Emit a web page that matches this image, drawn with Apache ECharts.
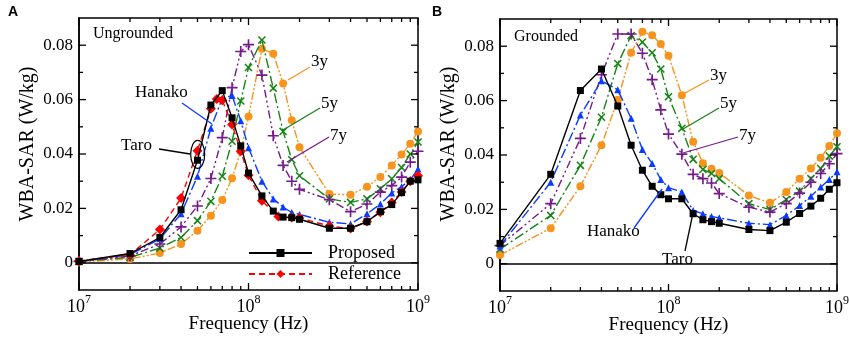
<!DOCTYPE html>
<html><head><meta charset="utf-8">
<script src="https://cdn.jsdelivr.net/npm/echarts@6/dist/echarts.min.js"></script>
<style>html,body{margin:0;padding:0;background:#fff}#c{width:850px;height:338px}</style>
</head><body><div id="c"></div>
<script>
// ---------- DATA ----------
const freqMHz    = [10,20,30,40,50,60,70,80,90,100,120,140,160,180,200,300,400,500,600,700,800,900,1000];
const refFreqMHz = [10,20,30,40,50,60,65,70,80,90,100,120,150,180,200,300,400,500,600,700,800,900,1000];

// Panel A: Ungrounded
const aProposed  = [0.0005,0.0034,0.0093,0.0195,0.0377,0.0580,0.0633,0.0533,0.0430,0.0330,0.0246,0.0190,0.0168,0.0166,0.0160,0.0127,0.0127,0.0151,0.0188,0.0214,0.0258,0.0300,0.0305];
const aReference = [0.0007,0.0030,0.0122,0.0238,0.0412,0.0566,0.0602,0.0598,0.0508,0.0410,0.0322,0.0228,0.0170,0.0167,0.0165,0.0135,0.0126,0.0152,0.0186,0.0222,0.0260,0.0300,0.0320];
const aHanako    = [0.0005,0.0030,0.0088,0.0180,0.0318,0.0495,0.0605,0.0615,0.0522,0.0423,0.0300,0.0235,0.0205,0.0185,0.0178,0.0149,0.0143,0.0180,0.0216,0.0257,0.0280,0.0305,0.0345];
const a7y        = [0.0005,0.0025,0.0069,0.0132,0.0209,0.0310,0.0460,0.0644,0.0777,0.0802,0.0690,0.0467,0.0358,0.0300,0.0270,0.0232,0.0188,0.0216,0.0260,0.0284,0.0315,0.0370,0.0410];
const a5y        = [0.0005,0.0020,0.0054,0.0093,0.0155,0.0226,0.0318,0.0447,0.0595,0.0718,0.0819,0.0642,0.0483,0.0379,0.0320,0.0235,0.0222,0.0235,0.0272,0.0309,0.0350,0.0400,0.0444];
const a3y        = [0.0003,0.0014,0.0036,0.0069,0.0118,0.0173,0.0231,0.0311,0.0410,0.0538,0.0787,0.0769,0.0659,0.0524,0.0425,0.0253,0.0250,0.0280,0.0315,0.0358,0.0398,0.0438,0.0483];

// Panel B: Grounded
const bTaro      = [0.0075,0.0329,0.0637,0.0716,0.0580,0.0436,0.0344,0.0285,0.0254,0.0239,0.0239,0.0184,0.0162,0.0155,0.0149,0.0126,0.0122,0.0153,0.0185,0.0212,0.0241,0.0274,0.0298];
const bHanako    = [0.0065,0.0300,0.0547,0.0673,0.0640,0.0535,0.0420,0.0369,0.0310,0.0280,0.0264,0.0196,0.0184,0.0174,0.0169,0.0149,0.0144,0.0178,0.0214,0.0248,0.0282,0.0310,0.0338];
const b7y        = [0.0067,0.0221,0.0461,0.0695,0.0845,0.0845,0.0774,0.0677,0.0566,0.0477,0.0403,0.0329,0.0313,0.0297,0.0258,0.0208,0.0190,0.0221,0.0260,0.0300,0.0332,0.0368,0.0405];
const b5y        = [0.0054,0.0178,0.0362,0.0539,0.0736,0.0839,0.0815,0.0776,0.0716,0.0614,0.0498,0.0384,0.0347,0.0332,0.0313,0.0221,0.0199,0.0236,0.0267,0.0313,0.0350,0.0396,0.0430];
const b3y        = [0.0032,0.0131,0.0285,0.0436,0.0603,0.0776,0.0853,0.0840,0.0808,0.0765,0.0620,0.0449,0.0370,0.0349,0.0334,0.0251,0.0224,0.0264,0.0313,0.0350,0.0390,0.0433,0.0480];

// Axis ticks
const xMajorTicks = [1e7,1e8,1e9];
const xMinorTicks = [2e7,3e7,4e7,5e7,6e7,7e7,8e7,9e7,2e8,3e8,4e8,5e8,6e8,7e8,8e8,9e8];
const yMajorTicks = [0,0.02,0.04,0.06,0.08];
const yMinorTicks = [0.01,0.03,0.05,0.07];
const legendNames = ['Proposed','Reference'];

// ---------- STYLE ----------
const SERIF = 'Liberation Serif';
const PLUS = 'path://M-1.5,-10L1.5,-10L1.5,-1.5L10,-1.5L10,1.5L1.5,1.5L1.5,10L-1.5,10L-1.5,1.5L-10,1.5L-10,-1.5L-1.5,-1.5Z';
const ST = {
  proposed:  {color:'#000000', dash:'solid',            symbol:'rect',     size:7},
  reference: {color:'#FF0000', dash:[6,4],              symbol:'diamond',  size:10},
  hanako:    {color:'#0A3CFF', dash:[10,3,2,3],         symbol:'triangle', size:7},
  y7:        {color:'#761A8C', dash:[8,3,2,3,2,3],      symbol:PLUS,       size:11, rot:0},
  y5:        {color:'#168416', dash:[10,3,2,3],         symbol:PLUS,       size:10, rot:45},
  y3:        {color:'#F7941D', dash:[8,2,2,2,2,2],      symbol:'circle',   size:8}
};

function pairs(freqs, vals){ return freqs.map((f,i)=>[f*1e6, vals[i]]); }
function line(name, key, freqs, vals, gi, z){
  const s = ST[key];
  return {
    name, type:'line', xAxisIndex:gi, yAxisIndex:gi, data:pairs(freqs, vals),
    symbol:s.symbol, symbolSize:s.size, symbolRotate:s.rot||0, showSymbol:true,
    lineStyle:{color:s.color, width:1.4, type:s.dash},
    itemStyle:{color:s.color, borderWidth:0},
    emphasis:{disabled:true}, z:z, animation:false
  };
}
function tickSeries(gi){
  const data = [];
  xMajorTicks.forEach(f=>data.push([f,0,0]));
  xMinorTicks.forEach(f=>data.push([f,0,1]));
  yMajorTicks.forEach(v=>data.push([1e8,v,2]));
  yMinorTicks.forEach(v=>data.push([1e8,v,3]));
  return {
    type:'custom', xAxisIndex:gi, yAxisIndex:gi, silent:true, clip:false, z:20, data,
    encode:{x:0,y:1},
    renderItem(params, api){
      const cs = params.coordSys, kind = api.value(2);
      const p = api.coord([api.value(0), api.value(1)]);
      const L = (kind===0||kind===2) ? 7 : 4;
      let ls;
      if(kind<2){ const yb=cs.y+cs.height, yt=cs.y; ls=[[p[0],yb,p[0],yb-L],[p[0],yt,p[0],yt+L]]; }
      else { const xl=cs.x, xr=cs.x+cs.width; ls=[[xl,p[1],xl+L,p[1]],[xr,p[1],xr-L,p[1]]]; }
      return {type:'group', children: ls.map(l=>({type:'line', shape:{x1:l[0],y1:l[1],x2:l[2],y2:l[3]}, style:{stroke:'#000', lineWidth:1.3}}))};
    }
  };
}
function xAxis(gi){
  return {
    type:'log', logBase:10, gridIndex:gi, min:1e7, max:1e9, interval:1,
    name:'Frequency (Hz)', nameLocation:'middle', nameGap:25, nameMoveOverlap:false,
    nameTextStyle:{fontFamily:SERIF, fontSize:19, color:'#000'},
    axisLine:{show:true, lineStyle:{color:'#000', width:1.5}},
    axisTick:{show:false}, splitLine:{show:false}, minorTick:{show:false},
    axisLabel:{
      margin:4,
      formatter: v => '{b|10}{s|' + Math.round(Math.log10(v)) + '}',
      rich:{
        b:{fontFamily:SERIF, fontSize:18, color:'#000', lineHeight:22, verticalAlign:'bottom'},
        s:{fontFamily:SERIF, fontSize:12, color:'#000', lineHeight:12, verticalAlign:'top'}
      }
    }
  };
}
function yAxis(gi){
  return {
    type:'value', gridIndex:gi, min:-0.01, max:0.09, interval:0.01,
    axisLine:{show:true, lineStyle:{color:'#000', width:1.5}},
    axisTick:{show:false}, splitLine:{show:false},
    axisLabel:{
      margin:6, fontFamily:SERIF, fontSize:17, color:'#000',
      formatter: v => { const k = Math.round(v*100); if(k<0 || k%2) return ''; return k===0 ? '0' : (k/100).toFixed(2); }
    }
  };
}

function txt(text, x, y, size, extra){
  return Object.assign({type:'text', x, y, z:50, silent:true,
    style:{text, fill:'#000', font: size+'px "'+SERIF+'"', verticalAlign:'middle', align:'left'}}, extra||{});
}
function seg(x1,y1,x2,y2,color){
  return {type:'line', z:50, silent:true, shape:{x1,y1,x2,y2}, style:{stroke:color, lineWidth:1.3}};
}

const option = {
  animation:false,
  backgroundColor:'#fff',
  grid:[
    {left:79, top:18, width:339, height:272, outerBoundsMode:'none', containLabel:false, show:true, borderColor:'#000', borderWidth:1.5, backgroundColor:'transparent'},
    {left:500, top:19, width:337, height:272, outerBoundsMode:'none', containLabel:false, show:true, borderColor:'#000', borderWidth:1.5, backgroundColor:'transparent'}
  ],
  xAxis:[xAxis(0), xAxis(1)],
  yAxis:[yAxis(0), yAxis(1)],
  legend:{
    data:legendNames, orient:'vertical', left:243, top:239, itemWidth:63, itemHeight:10, itemGap:3,
    selectedMode:false, textStyle:{fontFamily:SERIF, fontSize:18, color:'#000', padding:[0,0,0,11]}
  },
  series:[
    line('3y (ungrounded)','y3',freqMHz,a3y,0,2),
    line('5y (ungrounded)','y5',freqMHz,a5y,0,3),
    line('7y (ungrounded)','y7',freqMHz,a7y,0,4),
    line('Hanako (ungrounded)','hanako',freqMHz,aHanako,0,5),
    line('Reference','reference',refFreqMHz,aReference,0,6),
    line('Proposed','proposed',freqMHz,aProposed,0,7),
    line('3y (grounded)','y3',freqMHz,b3y,1,2),
    line('5y (grounded)','y5',freqMHz,b5y,1,3),
    line('7y (grounded)','y7',freqMHz,b7y,1,4),
    line('Hanako (grounded)','hanako',freqMHz,bHanako,1,5),
    line('Taro (grounded)','proposed',freqMHz,bTaro,1,7),
    tickSeries(0), tickSeries(1)
  ],
  graphic:[
    {type:'text', x:8, y:12, z:50, style:{text:'A', fill:'#000', font:'bold 14px "Liberation Sans"', verticalAlign:'middle'}},
    {type:'text', x:432, y:12, z:50, style:{text:'B', fill:'#000', font:'bold 14px "Liberation Sans"', verticalAlign:'middle'}},
    {type:'text', x:28, y:144, rotation:Math.PI/2, z:50, style:{text:'WBA-SAR (W/kg)', fill:'#000', font:'20px "'+SERIF+'"', align:'center', verticalAlign:'middle'}},
    {type:'text', x:449, y:144, rotation:Math.PI/2, z:50, style:{text:'WBA-SAR (W/kg)', fill:'#000', font:'20px "'+SERIF+'"', align:'center', verticalAlign:'middle'}},
    txt('Ungrounded', 93, 34, 16),
    txt('Grounded', 514, 37, 16),
    // Panel A annotations
    txt('3y', 311, 62, 17), seg(288,80,310,67,ST.y3.color),
    txt('5y', 321, 104, 17), seg(283,130,320,108,ST.y5.color),
    txt('7y', 330, 136, 17), seg(287,162,329,137,ST.y7.color),
    txt('Hanako', 135, 93, 17), seg(182,103,212,124,ST.hanako.color),
    txt('Taro', 121, 146, 17), seg(159,149,190,154,'#000'),
    {type:'ellipse', z:50, silent:true, shape:{cx:197.7, cy:154.3, rx:7, ry:14}, style:{fill:'transparent', stroke:'#000', lineWidth:1.2}},
    // Panel B annotations
    txt('3y', 710, 76, 17), seg(685,93,709,80,ST.y3.color),
    txt('5y', 720, 104, 17), seg(683,129,719,108,ST.y5.color),
    txt('7y', 739, 136, 17), seg(683,153,738,137,ST.y7.color),
    txt('Hanako', 587, 232, 17), seg(634,228,662,189,ST.hanako.color),
    txt('Taro', 662, 260, 17), seg(685,251,693,213,'#000')
  ]
};
const chart = echarts.init(document.getElementById('c'), null, {renderer:'canvas'});
chart.setOption(option);
</script></body></html>
